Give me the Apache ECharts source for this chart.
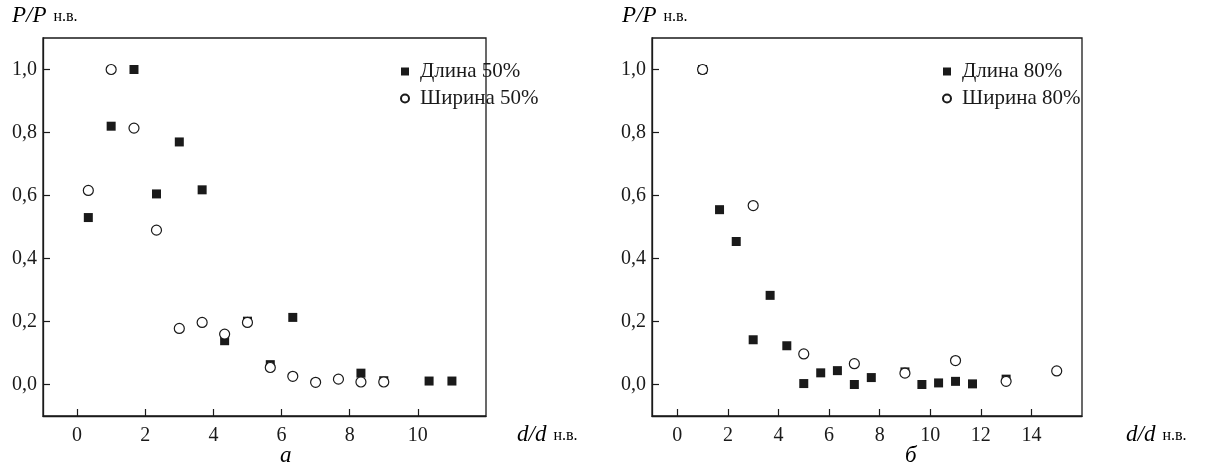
<!DOCTYPE html>
<html>
<head>
<meta charset="utf-8">
<script src="https://cdn.jsdelivr.net/npm/echarts@6/dist/echarts.min.js"></script>
<style>
  html, body { margin: 0; padding: 0; background: #fff; }
  #main { width: 1217px; height: 471px; }
</style>
</head>
<body>
<div id="main"></div>
<script>
// panel а — 50%
const lenA_x = [0.33, 1.0, 1.67, 2.33, 3.0, 3.67, 4.33, 5.0, 5.67, 6.33, 8.33, 9.0, 10.33, 11.0]
const lenA_y = [0.53, 0.82, 1.0, 0.605, 0.77, 0.618, 0.139, 0.201, 0.063, 0.213, 0.036, 0.012, 0.011, 0.011]
const widA_x = [0.33, 1.0, 1.67, 2.33, 3.0, 3.67, 4.33, 5.0, 5.67, 6.33, 7.0, 7.67, 8.33, 9.0]
const widA_y = [0.616, 1.0, 0.814, 0.49, 0.178, 0.197, 0.16, 0.197, 0.054, 0.026, 0.007, 0.017, 0.008, 0.008]

// panel б — 80%
const lenB_x = [1.0, 1.67, 2.33, 3.0, 3.67, 4.33, 5.0, 5.67, 6.33, 7.0, 7.67, 9.0, 9.67, 10.33, 11.0, 11.67, 13.0]
const lenB_y = [1.0, 0.555, 0.454, 0.142, 0.283, 0.123, 0.003, 0.037, 0.044, 0.0, 0.022, 0.04, 0.0, 0.005, 0.01, 0.002, 0.017]
const widB_x = [1.0, 3.0, 5.0, 7.0, 9.0, 11.0, 13.0, 15.0]
const widB_y = [1.0, 0.568, 0.097, 0.066, 0.036, 0.076, 0.01, 0.043]

const yTicks = [0, 0.2, 0.4, 0.6, 0.8, 1.0]
const xTicksA = [0, 2, 4, 6, 8, 10]
const xTicksB = [0, 2, 4, 6, 8, 10, 12, 14]

const FONT = '"Liberation Serif", "DejaVu Serif", serif'
const INK = '#1a1a1a'

const pairs = (xs, ys) => xs.map((x, i) => [x, ys[i]])

const xAxisFor = (idx, max, ticks) => ({
  type: 'value',
  gridIndex: idx,
  min: -1,
  max: max,
  axisLine: { show: true, onZero: false, lineStyle: { color: INK, width: 1.3 } },
  splitLine: { show: false },
  axisTick: { show: true, inside: true, length: 7, customValues: ticks, lineStyle: { color: INK, width: 1.2 } },
  axisLabel: { customValues: ticks, color: INK, fontFamily: FONT, fontSize: 20, margin: 10 }
})

const yAxisFor = (idx) => ({
  type: 'value',
  gridIndex: idx,
  min: -0.1,
  max: 1.1,
  axisLine: { show: true, onZero: false, lineStyle: { color: INK, width: 1.3 } },
  splitLine: { show: false },
  axisTick: { show: true, inside: true, length: 7, customValues: yTicks, lineStyle: { color: INK, width: 1.2 } },
  axisLabel: {
    customValues: yTicks, color: INK, fontFamily: FONT, fontSize: 20, margin: 6,
    formatter: v => v.toFixed(1).replace('.', ',')
  }
})

const squares = (name, idx, data) => ({
  name, type: 'scatter', xAxisIndex: idx, yAxisIndex: idx,
  symbol: 'rect', symbolSize: 9, z: 2,
  itemStyle: { color: INK, opacity: 1 },
  data
})
const circles = (name, idx, data) => ({
  name, type: 'scatter', xAxisIndex: idx, yAxisIndex: idx,
  symbol: 'circle', symbolSize: 10, z: 3,
  itemStyle: { color: '#fff', borderColor: INK, borderWidth: 1.2, opacity: 1 },
  data
})

const legendFor = (left, names) => ({
  left, top: 56, orient: 'vertical',
  itemWidth: 8, itemHeight: 8, itemGap: 6,
  data: names,
  textStyle: { color: INK, fontFamily: FONT, fontSize: 21, padding: [0, 0, 0, 6] },
  selectedMode: false
})

const rich = {
  i: { fontFamily: FONT, fontStyle: 'italic', fontSize: 23, color: INK },
  s: { fontFamily: FONT, fontSize: 16, color: INK, padding: [3, 0, 0, 2] }
}
const label = (x, y, str) => ({
  type: 'text', left: x, top: y,
  style: { text: str, rich, font: '20px ' + FONT }
})

const chart = echarts.init(document.getElementById('main'), null, { renderer: 'canvas' })

chart.setOption({
  animation: false,
  backgroundColor: '#fff',
  grid: [
    { left: 43, top: 38, width: 443, height: 378, show: true, borderColor: INK, borderWidth: 1.3 },
    { left: 652, top: 38, width: 430, height: 378, show: true, borderColor: INK, borderWidth: 1.3 }
  ],
  xAxis: [xAxisFor(0, 12, xTicksA), xAxisFor(1, 16, xTicksB)],
  yAxis: [yAxisFor(0), yAxisFor(1)],
  legend: [
    legendFor(395, ['Длина 50%', 'Ширина 50%']),
    legendFor(937, ['Длина 80%', 'Ширина 80%'])
  ],
  series: [
    squares('Длина 50%', 0, pairs(lenA_x, lenA_y)),
    circles('Ширина 50%', 0, pairs(widA_x, widA_y)),
    squares('Длина 80%', 1, pairs(lenB_x, lenB_y)),
    circles('Ширина 80%', 1, pairs(widB_x, widB_y))
  ],
  graphic: [
    label(12, 4, '{i|P/P} {s|н.в.}'),
    label(622, 4, '{i|P/P} {s|н.в.}'),
    label(517, 423, '{i|d/d} {s|н.в.}'),
    label(1126, 423, '{i|d/d} {s|н.в.}'),
    label(280, 444, '{i|а}'),
    label(905, 444, '{i|б}')
  ]
})
</script>
</body>
</html>
